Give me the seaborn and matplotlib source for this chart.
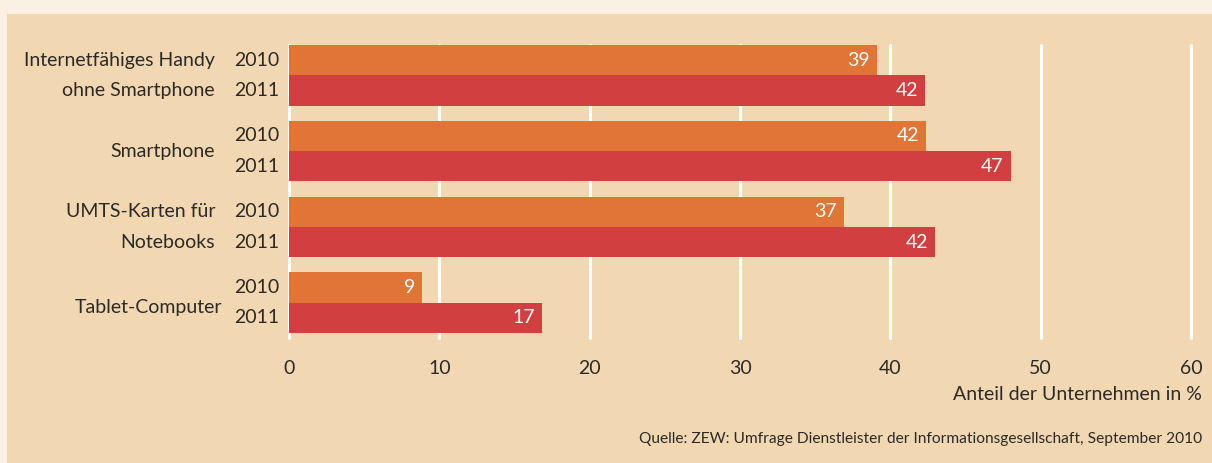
import matplotlib
matplotlib.use("Agg")
import matplotlib.pyplot as plt
from matplotlib.patches import Rectangle
import seaborn as sns
import pandas as pd

categories = ["Internetfähiges Handy\nohne Smartphone", "Smartphone",
              "UMTS-Karten für\nNotebooks", "Tablet-Computer"]
years = ["2010", "2011"]
values_2010 = [39.1, 42.4, 36.9, 8.85]
values_2011 = [42.3, 48.0, 43.0, 16.8]
labels_2010 = ["39", "42", "37", "9"]
labels_2011 = ["42", "47", "42", "17"]
xticks = [0, 10, 20, 30, 40, 50, 60]
xlabel = "Anteil der Unternehmen in %"
source = "Quelle: ZEW: Umfrage Dienstleister der Informationsgesellschaft, September 2010"

PANEL = "#F2D8B2"
OUTER = "#FAF1E4"
ORANGE = "#E07536"
RED = "#D23F41"
TEXT = "#2B2A28"

rows = []
for i, c in enumerate(categories):
    rows.append({"cat": c, "year": years[0], "value": values_2010[i]})
    rows.append({"cat": c, "year": years[1], "value": values_2011[i]})
df = pd.DataFrame(rows)

sns.set_theme(style="white")
plt.rcParams["font.family"] = ["Lato", "DejaVu Sans"]

fig = plt.figure(figsize=(12.12, 4.63), dpi=100, facecolor=OUTER)
W, H = 1212, 463
fig.patches.append(Rectangle((7 / W, 0), 1, 1 - 14 / H, transform=fig.transFigure,
                             facecolor=PANEL, edgecolor="none", zorder=-10))

ax = fig.add_axes([289 / W, 1 - 338 / H, (1191 - 289) / W, (338 - 45) / H])
ax.set_facecolor(PANEL)
ax.patch.set_alpha(0)

sns.barplot(data=df, y="cat", x="value", hue="year", orient="h",
            palette=[ORANGE, RED], width=0.8, saturation=1, legend=False,
            ax=ax, zorder=3, order=categories, hue_order=years,
            linewidth=0, edgecolor="none")

ax.set_xlim(0, 60)
ax.set_ylim(3.466, -0.4)
ax.set_xticks(xticks)
ax.set_xticklabels([str(t) for t in xticks], fontsize=14, color=TEXT)
ax.tick_params(axis="x", length=0, pad=16)
ax.set_yticks([])
ax.set_ylabel("")
ax.set_xlabel("")
for s in ax.spines.values():
    s.set_visible(False)
ax.grid(False)
for t in xticks:
    ax.axvline(t, color="white", lw=2.2, zorder=1, clip_on=False)

for i in range(len(categories)):
    for j, (vals, labs) in enumerate([(values_2010, labels_2010), (values_2011, labels_2011)]):
        y = i - 0.2 + 0.4 * j
        ax.annotate(labs[i], xy=(vals[i], y), xytext=(-7, 0), textcoords="offset pixels",
                    ha="right", va="center", color="white", fontsize=14, zorder=5)
        ax.annotate(years[j], xy=(0, y), xycoords=("axes fraction", "data"),
                    xytext=(-10, 0), textcoords="offset pixels",
                    ha="right", va="center", color=TEXT, fontsize=14)
    lines = categories[i].split("\n")
    if len(lines) == 2:
        for j, ln in enumerate(lines):
            ax.annotate(ln, xy=(0, i - 0.2 + 0.4 * j), xycoords=("axes fraction", "data"),
                        xytext=(-74, 0), textcoords="offset pixels",
                        ha="right", va="center", color=TEXT, fontsize=14)
    else:
        dx, dy = (-67, -5) if i == 3 else (-74, 0)
        ax.annotate(lines[0], xy=(0, i), xycoords=("axes fraction", "data"),
                    xytext=(dx, dy), textcoords="offset pixels",
                    ha="right", va="center", color=TEXT, fontsize=14)

fig.text(1202 / W, 1 - 394 / H, xlabel, ha="right", va="center", fontsize=14, color=TEXT)
fig.text(1202 / W, 1 - 439 / H, source, ha="right", va="center", fontsize=11.2, color=TEXT)

fig.savefig("out.png", dpi=100, facecolor=OUTER)
